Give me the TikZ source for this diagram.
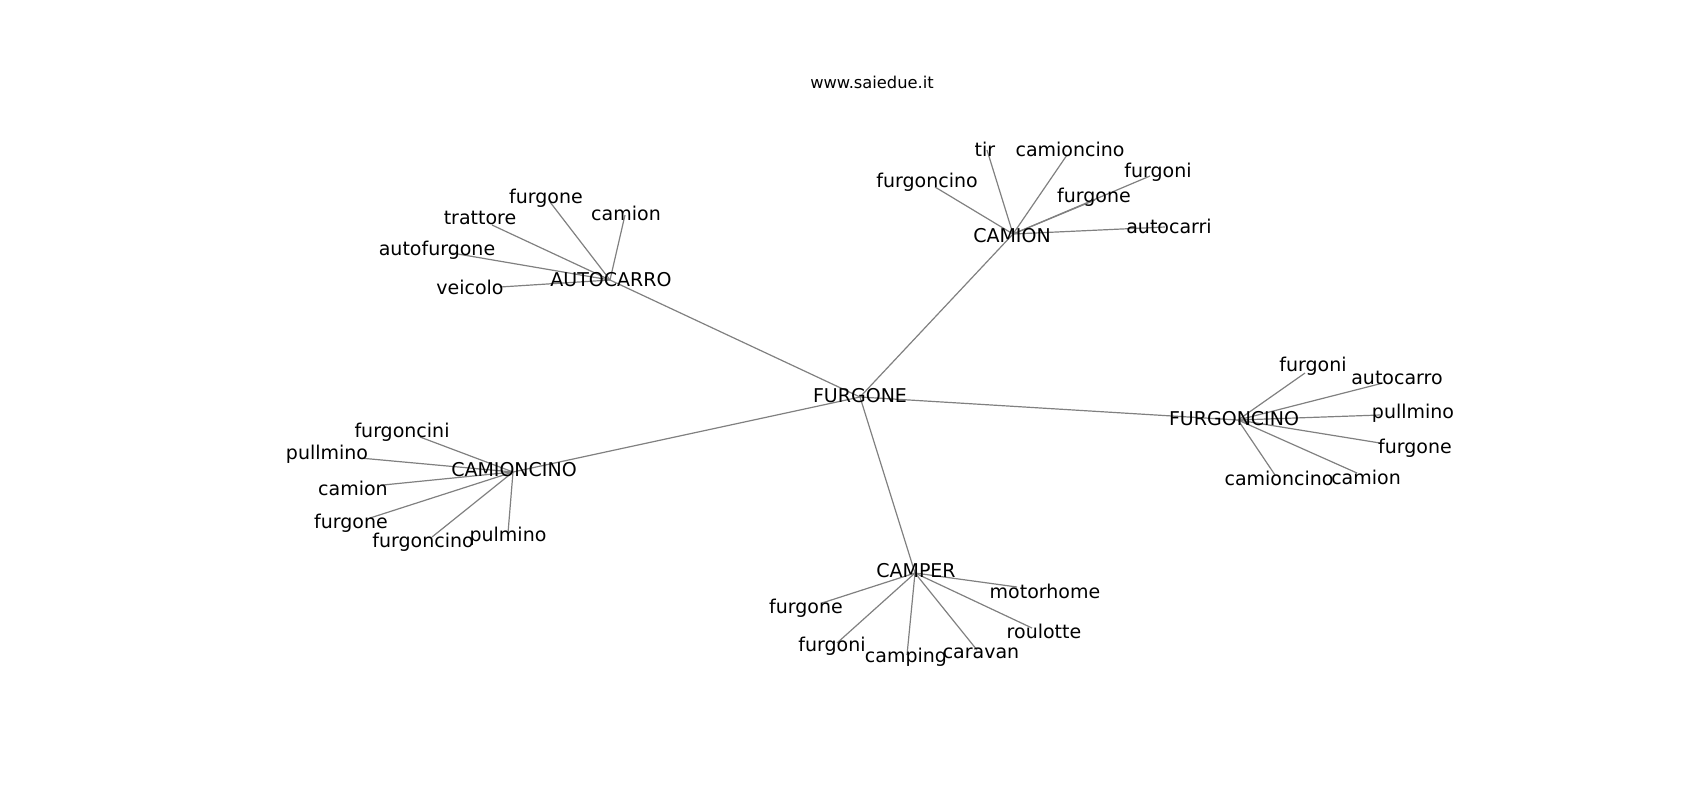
\documentclass[tikz,border=0pt]{standalone}
\usepackage{fontspec}
\setmainfont{DejaVu Sans}
\usepackage{xcolor}

\begin{document}
\begin{tikzpicture}[x=0.5pt,y=0.5pt,yscale=-1,xscale=1,
    edge/.style={draw={rgb, 255:red, 128; green, 128; blue, 128 }, line width=0.6pt},
    lbl/.style={inner sep=0pt, font=\fontsize{9.5}{11}\selectfont},
    ttl/.style={inner sep=0pt, font=\fontsize{8.15}{10}\selectfont}]
    \useasboundingbox (0,0) rectangle (1700,800);

    %Hub points
    \coordinate (furgone) at (860,397);
    \coordinate (autocarro) at (610,280);
    \coordinate (camion) at (1013,234);
    \coordinate (furgoncino) at (1238,420);
    \coordinate (camioncino) at (513,472);
    \coordinate (camper) at (915,573);

    %Leaf points of AUTOCARRO
    \coordinate (ac-furgone) at (550,202);
    \coordinate (ac-camion) at (625,215);
    \coordinate (ac-trattore) at (492,225);
    \coordinate (ac-autofurgone) at (452,253);
    \coordinate (ac-veicolo) at (500,287);
    %Leaf points of CAMION
    \coordinate (cm-tir) at (987,150);
    \coordinate (cm-camioncino) at (1067,155);
    \coordinate (cm-furgoncino) at (935,187);
    \coordinate (cm-furgoni) at (1150,176);
    \coordinate (cm-furgone) at (1095,200);
    \coordinate (cm-autocarri) at (1165,227);
    %Leaf points of FURGONCINO
    \coordinate (fc-furgoni) at (1305,373);
    \coordinate (fc-autocarro) at (1383,383);
    \coordinate (fc-pullmino) at (1380,415);
    \coordinate (fc-furgone) at (1380,443);
    \coordinate (fc-camion) at (1357,473);
    \coordinate (fc-camioncino) at (1275,475);
    %Leaf points of CAMIONCINO
    \coordinate (ci-furgoncini) at (420,437);
    \coordinate (ci-pullmino) at (360,458);
    \coordinate (ci-camion) at (383,485);
    \coordinate (ci-furgone) at (370,518);
    \coordinate (ci-furgoncino) at (432,537);
    \coordinate (ci-pulmino) at (508,533);
    %Leaf points of CAMPER
    \coordinate (cp-motorhome) at (1017,587);
    \coordinate (cp-furgone) at (822,603);
    \coordinate (cp-furgoni) at (837,643);
    \coordinate (cp-camping) at (907,655);
    \coordinate (cp-caravan) at (977,650);
    \coordinate (cp-roulotte) at (1032,628);

    %Edges from FURGONE
    \draw [edge] (furgone) -- (autocarro) ;
    \draw [edge] (furgone) -- (camion) ;
    \draw [edge] (furgone) -- (furgoncino) ;
    \draw [edge] (furgone) -- (camioncino) ;
    \draw [edge] (furgone) -- (camper) ;
    %Edges of AUTOCARRO
    \draw [edge] (autocarro) -- (ac-furgone) ;
    \draw [edge] (autocarro) -- (ac-camion) ;
    \draw [edge] (autocarro) -- (ac-trattore) ;
    \draw [edge] (autocarro) -- (ac-autofurgone) ;
    \draw [edge] (autocarro) -- (ac-veicolo) ;
    %Edges of CAMION
    \draw [edge] (camion) -- (cm-tir) ;
    \draw [edge] (camion) -- (cm-camioncino) ;
    \draw [edge] (camion) -- (cm-furgoncino) ;
    \draw [edge] (camion) -- (cm-furgoni) ;
    \draw [edge] (camion) -- (cm-furgone) ;
    \draw [edge] (camion) -- (cm-autocarri) ;
    %Edges of FURGONCINO
    \draw [edge] (furgoncino) -- (fc-furgoni) ;
    \draw [edge] (furgoncino) -- (fc-autocarro) ;
    \draw [edge] (furgoncino) -- (fc-pullmino) ;
    \draw [edge] (furgoncino) -- (fc-furgone) ;
    \draw [edge] (furgoncino) -- (fc-camion) ;
    \draw [edge] (furgoncino) -- (fc-camioncino) ;
    %Edges of CAMIONCINO
    \draw [edge] (camioncino) -- (ci-furgoncini) ;
    \draw [edge] (camioncino) -- (ci-pullmino) ;
    \draw [edge] (camioncino) -- (ci-camion) ;
    \draw [edge] (camioncino) -- (ci-furgone) ;
    \draw [edge] (camioncino) -- (ci-furgoncino) ;
    \draw [edge] (camioncino) -- (ci-pulmino) ;
    %Edges of CAMPER
    \draw [edge] (camper) -- (cp-motorhome) ;
    \draw [edge] (camper) -- (cp-furgone) ;
    \draw [edge] (camper) -- (cp-furgoni) ;
    \draw [edge] (camper) -- (cp-camping) ;
    \draw [edge] (camper) -- (cp-caravan) ;
    \draw [edge] (camper) -- (cp-roulotte) ;

    % Text Node
    \node [ttl] (title) at (872,82) {www.saiedue.it};

    % Text Node
    \node [lbl] (furgone-t) at (860,396) {FURGONE};
    \node [lbl] (autocarro-t) at (611,280) {AUTOCARRO};
    \node [lbl] (camion-t) at (1012,236) {CAMION};
    \node [lbl] (furgoncino-t) at (1234,419) {FURGONCINO};
    \node [lbl] (camioncino-t) at (514,470) {CAMIONCINO};
    \node [lbl] (camper-t) at (916,571) {CAMPER};

    % Text Node
    \node [lbl] (ac-furgone-t) at (546,198) {furgone};
    \node [lbl] (ac-camion-t) at (626,213) {camion};
    \node [lbl] (ac-trattore-t) at (480,218) {trattore};
    \node [lbl] (ac-autofurgone-t) at (437,250) {autofurgone};
    \node [lbl] (ac-veicolo-t) at (470,287) {veicolo};

    % Text Node
    \node [lbl] (cm-tir-t) at (985,149) {tir};
    \node [lbl] (cm-camioncino-t) at (1070,149) {camioncino};
    \node [lbl] (cm-furgoncino-t) at (927,182) {furgoncino};
    \node [lbl] (cm-furgoni-t) at (1158,172) {furgoni};
    \node [lbl] (cm-furgone-t) at (1094,197) {furgone};
    \node [lbl] (cm-autocarri-t) at (1169,226) {autocarri};

    % Text Node
    \node [lbl] (fc-furgoni-t) at (1313,366) {furgoni};
    \node [lbl] (fc-autocarro-t) at (1397,378) {autocarro};
    \node [lbl] (fc-pullmino-t) at (1413,413) {pullmino};
    \node [lbl] (fc-furgone-t) at (1415,448) {furgone};
    \node [lbl] (fc-camion-t) at (1366,477) {camion};
    \node [lbl] (fc-camioncino-t) at (1279,478) {camioncino};

    % Text Node
    \node [lbl] (ci-furgoncini-t) at (402,432) {furgoncini};
    \node [lbl] (ci-pullmino-t) at (327,454) {pullmino};
    \node [lbl] (ci-camion-t) at (353,488) {camion};
    \node [lbl] (ci-furgone-t) at (351,523) {furgone};
    \node [lbl] (ci-furgoncino-t) at (423,542) {furgoncino};
    \node [lbl] (ci-pulmino-t) at (508,536) {pulmino};

    % Text Node
    \node [lbl] (cp-motorhome-t) at (1045,591) {motorhome};
    \node [lbl] (cp-furgone-t) at (806,608) {furgone};
    \node [lbl] (cp-furgoni-t) at (832,646) {furgoni};
    \node [lbl] (cp-camping-t) at (906,657) {camping};
    \node [lbl] (cp-caravan-t) at (981,653) {caravan};
    \node [lbl] (cp-roulotte-t) at (1044,631) {roulotte};

\end{tikzpicture}
\end{document}
